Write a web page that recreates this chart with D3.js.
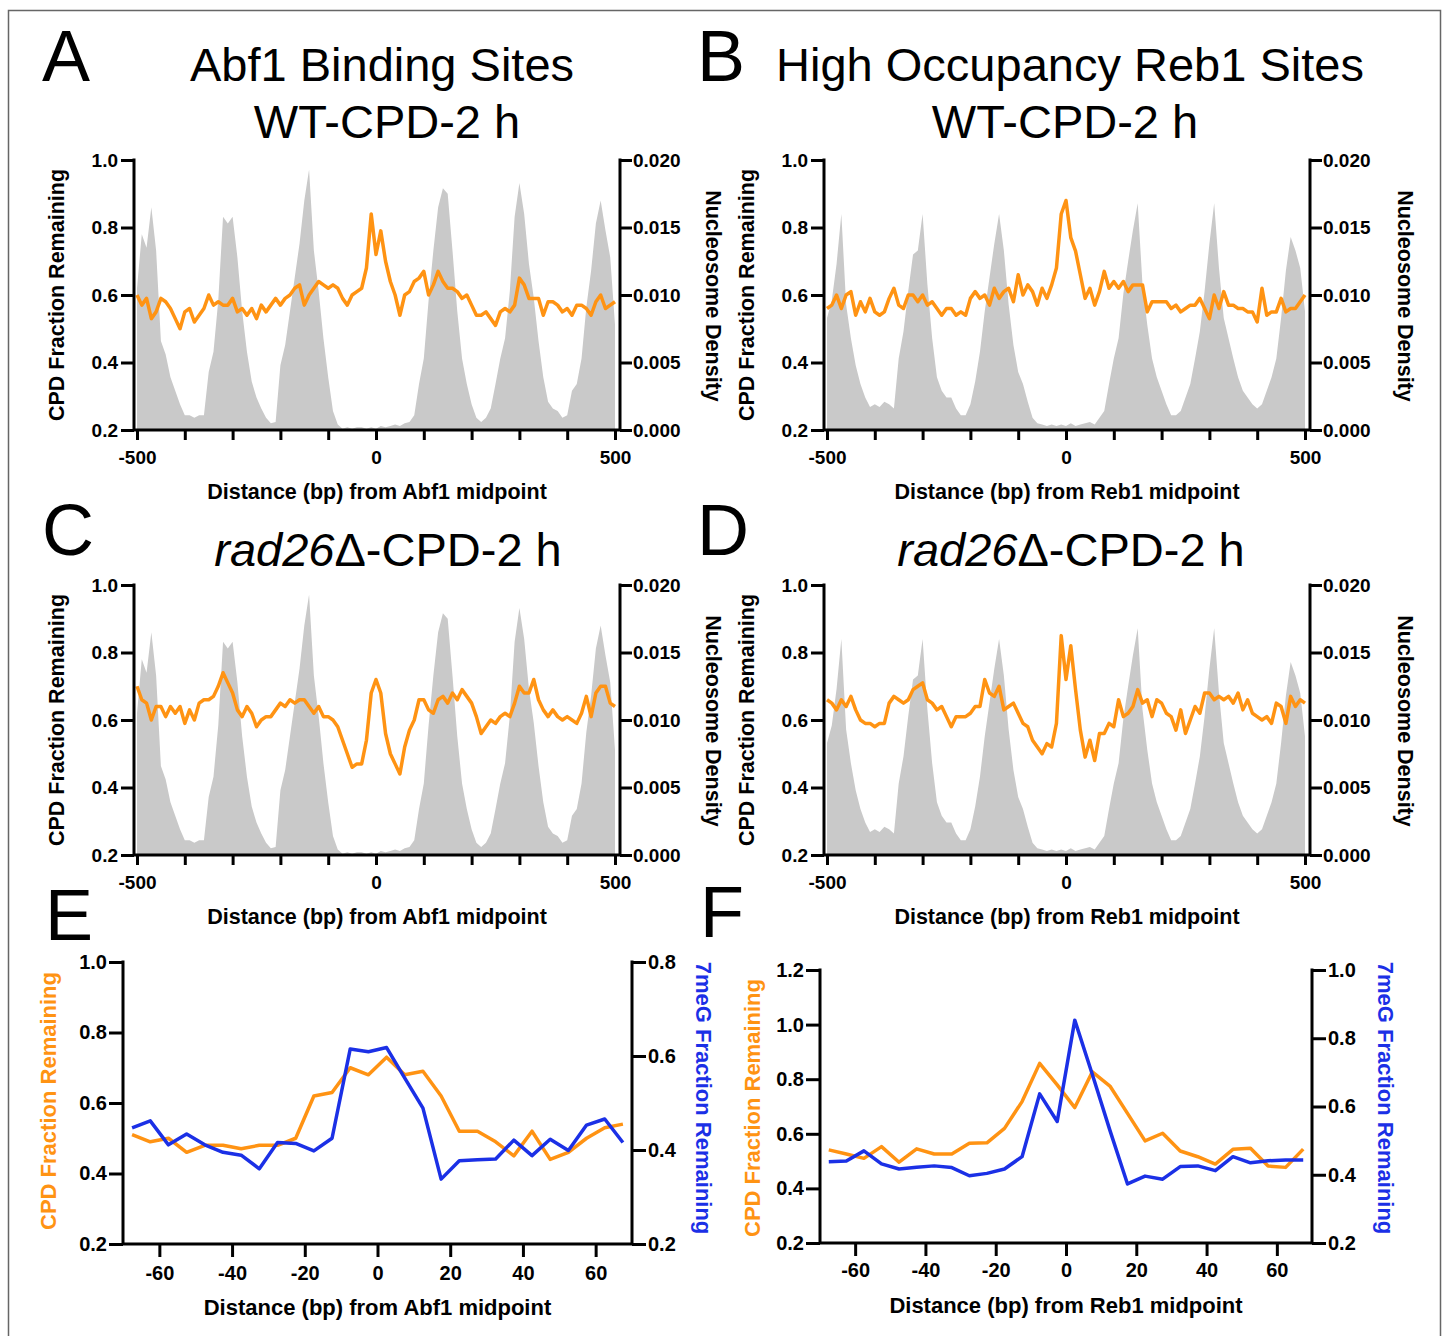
<!DOCTYPE html>
<html lang="en">
<head>
<meta charset="UTF-8">
<title>CPD repair around Abf1 and Reb1 sites</title>
<script src="https://d3js.org/d3.v7.min.js"></script>
<style>
  body { margin: 0; background: #fff; }
</style>
</head>
<body>
<div id="fig"></div>
<script>
// ---- data ----
// positions (bp) for panels A-D, 10 bp steps
var bp = d3.range(-500, 501, 10);
// positions (bp) for panels E-F, 5 bp bins
var binBp = d3.range(-67.5, 68, 5);

// nucleosome density, in units of 0.001
var abf1Nuc = [
  10.5,14.5,13.5,16.5,13.3,6.6,5.6,3.9,2.9,1.9,
  1.1,1.1,0.9,1.1,1.1,4.3,5.8,9.6,15.8,15.3,
  15.8,12.8,8.8,5.8,3.6,2.4,1.6,0.9,0.5,0.6,
  4.8,6.3,8.8,11.3,13.8,17.0,19.3,13.3,10.3,6.8,
  3.9,1.4,0.4,0.1,0.2,0.1,0.2,0.2,0.1,0.2,
  0.1,0.3,0.2,0.3,0.4,0.3,0.5,0.6,1.1,3.4,
  5.3,9.6,13.3,16.5,17.9,17.5,13.3,8.8,5.3,3.4,
  1.9,0.9,0.6,0.9,1.6,3.4,5.3,6.8,10.3,15.8,
  18.3,16.0,12.3,9.8,6.6,3.9,2.1,1.6,1.4,0.9,
  1.1,2.9,3.4,5.3,9.1,11.8,15.3,17.0,14.8,12.8,
  7.8];
var reb1Nuc = [
  8.3,9.6,12.3,16.0,9.3,6.8,4.8,3.4,2.4,1.7,
  1.9,1.7,2.1,1.9,1.6,5.3,7.3,10.3,13.0,13.3,
  16.0,10.8,6.8,3.9,2.9,2.4,2.4,1.6,1.1,1.1,
  1.9,3.6,5.8,8.8,11.3,13.8,16.0,13.3,9.3,6.3,
  4.3,3.4,2.1,0.9,0.5,0.4,0.3,0.4,0.3,0.4,
  0.3,0.5,0.3,0.4,0.5,0.6,0.4,0.9,1.4,3.4,
  5.3,6.8,10.1,12.5,14.8,16.8,10.8,7.8,5.3,3.9,
  2.9,1.9,1.1,1.1,1.4,2.4,3.4,5.3,7.3,10.3,
  13.8,16.8,12.0,8.3,6.8,5.3,3.9,2.9,2.4,1.9,
  1.6,1.9,2.9,3.9,5.3,8.3,11.8,14.3,13.3,12.0,
  8.8];

// CPD fraction remaining
var abf1WT = [
  0.60,0.57,0.59,0.53,0.55,0.59,0.58,0.56,0.53,0.50,
  0.55,0.56,0.52,0.54,0.56,0.60,0.57,0.58,0.57,0.57,
  0.59,0.55,0.56,0.54,0.56,0.53,0.57,0.55,0.57,0.59,
  0.57,0.59,0.60,0.62,0.63,0.57,0.60,0.62,0.64,0.63,
  0.62,0.63,0.62,0.59,0.57,0.60,0.61,0.62,0.68,0.84,
  0.72,0.79,0.70,0.64,0.60,0.54,0.60,0.61,0.64,0.65,
  0.67,0.60,0.63,0.67,0.64,0.62,0.62,0.61,0.59,0.60,
  0.57,0.54,0.54,0.55,0.53,0.51,0.55,0.56,0.55,0.57,
  0.65,0.63,0.59,0.59,0.59,0.54,0.58,0.58,0.57,0.55,
  0.56,0.54,0.57,0.57,0.56,0.54,0.58,0.60,0.56,0.57,
  0.58];
var reb1WT = [
  0.56,0.57,0.60,0.56,0.60,0.61,0.54,0.58,0.55,0.59,
  0.55,0.54,0.55,0.59,0.62,0.57,0.56,0.60,0.60,0.58,
  0.60,0.57,0.58,0.56,0.54,0.56,0.56,0.54,0.55,0.54,
  0.59,0.61,0.59,0.60,0.57,0.62,0.59,0.61,0.62,0.58,
  0.66,0.60,0.63,0.61,0.57,0.62,0.59,0.63,0.68,0.84,
  0.88,0.77,0.73,0.66,0.59,0.62,0.57,0.61,0.67,0.62,
  0.64,0.62,0.64,0.61,0.63,0.63,0.63,0.55,0.58,0.58,
  0.58,0.58,0.56,0.57,0.55,0.56,0.57,0.57,0.59,0.56,
  0.53,0.60,0.56,0.61,0.57,0.57,0.56,0.56,0.55,0.55,
  0.52,0.62,0.54,0.55,0.55,0.59,0.55,0.56,0.56,0.58,
  0.60];
var abf1Rad26 = [
  0.70,0.66,0.65,0.60,0.64,0.64,0.61,0.64,0.62,0.64,
  0.59,0.63,0.60,0.65,0.66,0.66,0.67,0.70,0.74,0.71,
  0.68,0.63,0.61,0.64,0.62,0.58,0.60,0.61,0.61,0.63,
  0.65,0.64,0.66,0.65,0.66,0.66,0.64,0.62,0.64,0.61,
  0.61,0.60,0.58,0.54,0.50,0.46,0.47,0.47,0.54,0.68,
  0.72,0.68,0.56,0.50,0.47,0.44,0.52,0.57,0.60,0.66,
  0.66,0.63,0.62,0.66,0.67,0.65,0.68,0.66,0.69,0.67,
  0.65,0.61,0.56,0.58,0.60,0.59,0.61,0.62,0.61,0.65,
  0.70,0.68,0.68,0.72,0.66,0.63,0.61,0.63,0.61,0.60,
  0.61,0.60,0.59,0.62,0.67,0.61,0.68,0.70,0.70,0.65,
  0.64];
var reb1Rad26 = [
  0.66,0.65,0.63,0.66,0.64,0.67,0.63,0.60,0.59,0.59,
  0.58,0.59,0.59,0.65,0.67,0.66,0.65,0.66,0.69,0.70,
  0.71,0.66,0.65,0.63,0.64,0.61,0.58,0.61,0.61,0.61,
  0.62,0.64,0.64,0.72,0.68,0.67,0.70,0.63,0.64,0.65,
  0.62,0.59,0.58,0.54,0.52,0.50,0.53,0.52,0.59,0.85,
  0.72,0.82,0.69,0.57,0.49,0.54,0.48,0.56,0.56,0.59,
  0.58,0.66,0.61,0.62,0.64,0.69,0.65,0.66,0.61,0.66,
  0.65,0.62,0.61,0.57,0.63,0.56,0.60,0.64,0.62,0.68,
  0.68,0.66,0.67,0.66,0.67,0.65,0.68,0.63,0.66,0.62,
  0.61,0.60,0.61,0.59,0.65,0.64,0.59,0.67,0.64,0.66,
  0.65];

// panels E and F: CPD (left axis) and 7meG (right axis)
var abf1CPD = [0.51,0.49,0.50,0.46,0.48,0.48,0.47,0.48,0.48,0.50,0.62,0.63,0.70,0.68,
               0.73,0.68,0.69,0.62,0.52,0.52,0.49,0.45,0.52,0.44,0.46,0.50,0.53,0.54];
var abf1MeG = [0.447,0.462,0.411,0.434,0.411,0.395,0.389,0.360,0.416,0.414,0.398,0.425,0.615,0.609,
               0.618,0.553,0.489,0.338,0.377,0.379,0.381,0.421,0.388,0.423,0.399,0.453,0.466,0.416];
var reb1CPD = [0.541,0.526,0.510,0.553,0.496,0.545,0.526,0.526,0.565,0.567,0.620,0.718,0.858,0.779,
               0.696,0.827,0.775,0.675,0.574,0.602,0.537,0.516,0.489,0.543,0.547,0.482,0.477,0.544];
var reb1MeG = [0.438,0.440,0.470,0.432,0.417,0.422,0.426,0.421,0.397,0.404,0.417,0.453,0.637,0.556,
               0.853,0.694,0.530,0.373,0.396,0.387,0.424,0.426,0.412,0.453,0.435,0.441,0.443,0.443];

// ---- drawing ----
var FONT = '"Liberation Sans", Arial, Helvetica, sans-serif';
var ORANGE = "#ff9313", BLUE = "#1b30e6", GREY = "#c9c9c9";

var svg = d3.select("#fig").append("svg")
    .attr("width", 1448)
    .attr("height", 1336)
    .style("font-family", FONT);

svg.append("rect")
    .attr("x", 8.5).attr("y", 10.5)
    .attr("width", 1432).attr("height", 1340)
    .attr("fill", "none")
    .attr("stroke", "#666")
    .attr("stroke-width", 1.5);

function styleAxis(g, size) {
    g.select(".domain").remove();
    g.selectAll(".tick line").attr("stroke", "#000").attr("stroke-width", 3);
    g.selectAll(".tick text")
        .style("font-family", FONT)
        .style("font-size", size + "px")
        .style("font-weight", "bold")
        .attr("fill", "#000");
}

function frame(x1, x2, yTop, yBot) {
    svg.append("path")
        .attr("d", "M" + x1 + "," + yTop + "V" + yBot + "H" + x2 + "V" + yTop)
        .attr("fill", "none")
        .attr("stroke", "#000")
        .attr("stroke-width", 3)
        .attr("stroke-linecap", "square");
}

function label(txt, x, y, size, opts) {
    opts = opts || {};
    var t = svg.append("text")
        .attr("x", x).attr("y", y)
        .attr("text-anchor", opts.anchor || "middle")
        .style("font-size", size + "px")
        .style("font-weight", opts.bold ? "bold" : "normal")
        .attr("fill", opts.color || "#000");
    if (opts.rotate) {
        t.attr("dominant-baseline", "central")
         .attr("transform", "rotate(" + opts.rotate + "," + x + "," + y + ")");
    }
    t.text(txt);
    return t;
}

// A-D: CPD line over nucleosome density
function nucPanel(p) {
    var x = d3.scaleLinear().domain([-500, 500]).range([p.left + 3, p.left + 481]);
    var y = d3.scaleLinear().domain([0.2, 1.0]).range([p.bottom, p.bottom - 270]);
    var yN = d3.scaleLinear().domain([0, 20]).range([p.bottom, p.bottom - 270]);
    var right = p.left + 486;

    svg.append("path")
        .datum(p.nuc)
        .attr("fill", GREY)
        .attr("d", d3.area()
            .x(function (d, i) { return x(bp[i]); })
            .y0(p.bottom)
            .y1(function (d) { return yN(d); }));

    svg.append("path")
        .datum(p.cpd)
        .attr("fill", "none")
        .attr("stroke", ORANGE)
        .attr("stroke-width", 3.5)
        .attr("stroke-linejoin", "round")
        .attr("d", d3.line()
            .x(function (d, i) { return x(bp[i]); })
            .y(function (d) { return y(d); }));

    var gl = svg.append("g")
        .attr("transform", "translate(" + p.left + ",0)")
        .call(d3.axisLeft(y).tickValues([0.2, 0.4, 0.6, 0.8, 1.0])
            .tickFormat(d3.format(".1f")).tickSize(13).tickPadding(3));
    styleAxis(gl, 19);

    var gr = svg.append("g")
        .attr("transform", "translate(" + right + ",0)")
        .call(d3.axisRight(yN).tickValues([0, 5, 10, 15, 20])
            .tickFormat(function (d) { return (d / 1000).toFixed(3); })
            .tickSize(12).tickPadding(1));
    styleAxis(gr, 19);

    var gx = svg.append("g")
        .attr("transform", "translate(0," + p.bottom + ")")
        .call(d3.axisBottom(x).tickValues(d3.range(-500, 501, 100))
            .tickFormat(function (d) { return (d === -500 || d === 0 || d === 500) ? String(d) : ""; })
            .tickSize(10).tickPadding(11));
    styleAxis(gx, 19);

    frame(p.left, right, p.bottom - 270, p.bottom);

    label("CPD Fraction Remaining", p.leftLabel, p.bottom - 135, 21.5, { bold: true, rotate: -90 });
    label("Nucleosome Density", p.rightLabel, p.bottom - 134, 21.5, { bold: true, rotate: 90 });
    label("Distance (bp) from " + p.site + " midpoint", p.left + 243, p.bottom + 69, 21.5, { bold: true });
}

// E-F: CPD and 7meG on two axes
function dualPanel(p) {
    var x = d3.scaleLinear().domain([-70, 70]).range([p.left, p.right]);
    var yL = d3.scaleLinear().domain(p.leftDomain).range([p.bottom, p.top]);
    var yR = d3.scaleLinear().domain(p.rightDomain).range([p.bottom, p.top]);

    var line = function (scale) {
        return d3.line()
            .x(function (d, i) { return x(binBp[i]); })
            .y(function (d) { return scale(d); });
    };

    svg.append("path").datum(p.cpd)
        .attr("fill", "none").attr("stroke", ORANGE).attr("stroke-width", 3.5)
        .attr("stroke-linejoin", "round").attr("d", line(yL));
    svg.append("path").datum(p.meg)
        .attr("fill", "none").attr("stroke", BLUE).attr("stroke-width", 3.5)
        .attr("stroke-linejoin", "round").attr("d", line(yR));

    var gl = svg.append("g")
        .attr("transform", "translate(" + p.left + ",0)")
        .call(d3.axisLeft(yL).tickValues(d3.range(p.leftDomain[0], p.leftDomain[1] + 0.01, 0.2))
            .tickFormat(d3.format(".1f")).tickSize(14).tickPadding(2));
    styleAxis(gl, 20);

    var gr = svg.append("g")
        .attr("transform", "translate(" + p.right + ",0)")
        .call(d3.axisRight(yR).tickValues(d3.range(p.rightDomain[0], p.rightDomain[1] + 0.01, 0.2))
            .tickFormat(d3.format(".1f")).tickSize(14).tickPadding(2));
    styleAxis(gr, 20);

    var gx = svg.append("g")
        .attr("transform", "translate(0," + p.bottom + ")")
        .call(d3.axisBottom(x).tickValues([-60, -40, -20, 0, 20, 40, 60])
            .tickFormat(function (d) { return String(d); })
            .tickSize(13).tickPadding(p.xPad));
    styleAxis(gx, 20);

    frame(p.left, p.right, p.top, p.bottom);

    var mid = (p.left + p.right) / 2;
    label("CPD Fraction Remaining", p.leftLabel, p.leftLabelY, 22, { bold: true, rotate: -90, color: ORANGE });
    label("7meG Fraction Remaining", p.rightLabel, 1098, 22, { bold: true, rotate: 90, color: BLUE });
    label("Distance (bp) from " + p.site + " midpoint", mid, p.titleY, 22, { bold: true });
}

nucPanel({ left: 134, bottom: 430, nuc: abf1Nuc, cpd: abf1WT, site: "Abf1", leftLabel: 57, rightLabel: 713 });
nucPanel({ left: 824, bottom: 430, nuc: reb1Nuc, cpd: reb1WT, site: "Reb1", leftLabel: 747, rightLabel: 1405 });
nucPanel({ left: 134, bottom: 855, nuc: abf1Nuc, cpd: abf1Rad26, site: "Abf1", leftLabel: 57, rightLabel: 713 });
nucPanel({ left: 824, bottom: 855, nuc: reb1Nuc, cpd: reb1Rad26, site: "Reb1", leftLabel: 747, rightLabel: 1405 });

dualPanel({ left: 123, right: 632, top: 962, bottom: 1244, leftDomain: [0.2, 1.0], rightDomain: [0.2, 0.8],
            cpd: abf1CPD, meg: abf1MeG, site: "Abf1", leftLabel: 48, leftLabelY: 1101, rightLabel: 703,
            xPad: 9, titleY: 1315 });
dualPanel({ left: 820, right: 1312, top: 970, bottom: 1243, leftDomain: [0.2, 1.2], rightDomain: [0.2, 1.0],
            cpd: reb1CPD, meg: reb1MeG, site: "Reb1", leftLabel: 752, leftLabelY: 1108, rightLabel: 1385,
            xPad: 7, titleY: 1313 });

// panel letters
[["A", 42, 81], ["B", 697, 81], ["C", 42, 555], ["D", 697, 555], ["E", 45, 940], ["F", 700, 937]]
    .forEach(function (d) { label(d[0], d[1], d[2], 72, { anchor: "start" }); });

// titles
label("Abf1 Binding Sites", 382, 81, 47);
label("WT-CPD-2 h", 387, 138, 47);
label("High Occupancy Reb1 Sites", 1070, 81, 47);
label("WT-CPD-2 h", 1065, 138, 47);

[388, 1071].forEach(function (cx) {
    var t = label("", cx, 566, 47);
    t.append("tspan").style("font-style", "italic").text("rad26");
    t.append("tspan").text("\u0394-CPD-2 h");
});
</script>
</body>
</html>
